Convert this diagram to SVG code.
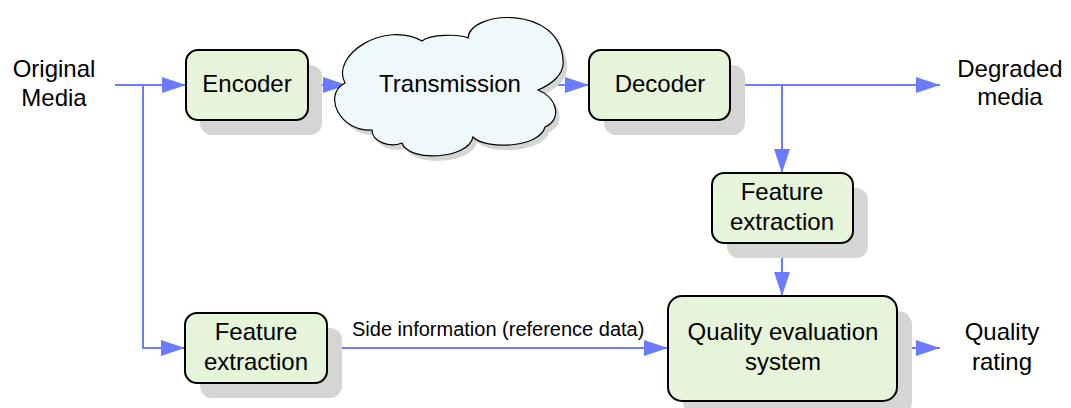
<svg xmlns="http://www.w3.org/2000/svg" width="1071" height="408" viewBox="0 0 1071 408">
  <style>
    .shadow { fill: #d5d6d3; }
    .box { fill: #e6f4da; stroke: #000; stroke-width: 2; }
    .cloud { fill: #eff8fa; stroke: #000; stroke-width: 1.2; }
    .cloud-shadow { fill: #d5d6d3; }
    .lbl { font-family: "Liberation Sans", Arial, sans-serif; font-size: 24px; fill: #000; text-anchor: middle; }
    .small { font-family: "Liberation Sans", Arial, sans-serif; font-size: 20px; fill: #000; }
    .wire { fill: none; stroke: #6b7bff; stroke-width: 2; }
  </style>
  <defs>
    <marker id="arr" markerUnits="userSpaceOnUse" markerWidth="24" markerHeight="16" refX="24" refY="8" orient="auto">
      <path d="M0,0 L24,8 L0,16 Z" fill="#6b7bff"/>
    </marker>
    <path id="cloud-outline" d="M345,83 C330,55 385,20 422,41 C430,34 460,34 468,38 C470,10 560,5 563,60 C565,75 550,85 538,90 C558,98 562,120 545,127 C540,148 485,150 473,137 C468,160 408,162 402,143 C390,148 372,142 372,130 C340,132 322,95 345,83 Z"/>
  </defs>
  <rect width="1071" height="408" fill="#fff"/>

  <!-- free-standing labels -->
  <g id="original-media">
    <text class="lbl" x="54" y="77">Original</text>
    <text class="lbl" x="54" y="106">Media</text>
  </g>
  <g id="degraded-media">
    <text class="lbl" x="1010" y="77">Degraded</text>
    <text class="lbl" x="1010" y="105">media</text>
  </g>
  <g id="quality-rating">
    <text class="lbl" x="1002" y="340">Quality</text>
    <text class="lbl" x="1002" y="370">rating</text>
  </g>

  <!-- connectors -->
  <g id="connectors">
    <path class="wire" d="M115,85 H186" marker-end="url(#arr)"/>
    <path class="wire" d="M143,85 V348 H185" marker-end="url(#arr)"/>
    <path class="wire" d="M308,85 H347" marker-end="url(#arr)"/>
    <path class="wire" d="M540,85 H589" marker-end="url(#arr)"/>
    <path class="wire" d="M730,85 H940" marker-end="url(#arr)"/>
    <path class="wire" d="M782,85 V173" marker-end="url(#arr)"/>
    <path class="wire" d="M782,243 V296" marker-end="url(#arr)"/>
    <path class="wire" d="M327,348 H668" marker-end="url(#arr)"/>
    <path class="wire" d="M897,348 H940" marker-end="url(#arr)"/>
    <text class="small" x="352" y="336">Side information (reference data)</text>
  </g>

  <!-- nodes -->
  <g id="encoder">
    <rect class="shadow" x="200" y="65" width="122" height="70" rx="12"/>
    <rect class="box" x="186" y="50" width="122" height="70" rx="12"/>
    <text class="lbl" x="247" y="92">Encoder</text>
  </g>

  <g id="transmission">
    <use href="#cloud-outline" class="cloud-shadow" transform="translate(4,5)"/>
    <use href="#cloud-outline" class="cloud"/>
    <text class="lbl" x="450" y="92">Transmission</text>
  </g>

  <g id="decoder">
    <rect class="shadow" x="604" y="65" width="141" height="70" rx="12"/>
    <rect class="box" x="589" y="50" width="141" height="70" rx="12"/>
    <text class="lbl" x="660" y="92">Decoder</text>
  </g>

  <g id="feature-extraction-degraded">
    <rect class="shadow" x="727" y="188" width="141" height="70" rx="12"/>
    <rect class="box" x="712" y="173" width="141" height="70" rx="12"/>
    <text class="lbl" x="782" y="200">Feature</text>
    <text class="lbl" x="782" y="230">extraction</text>
  </g>

  <g id="feature-extraction-original">
    <rect class="shadow" x="200" y="328" width="142" height="70" rx="12"/>
    <rect class="box" x="185" y="313" width="142" height="70" rx="12"/>
    <text class="lbl" x="256" y="340">Feature</text>
    <text class="lbl" x="256" y="370">extraction</text>
  </g>

  <g id="quality-evaluation">
    <rect class="shadow" x="683" y="311" width="229" height="105" rx="14"/>
    <rect class="box" x="668" y="296" width="229" height="105" rx="14"/>
    <text class="lbl" x="783" y="340">Quality evaluation</text>
    <text class="lbl" x="783" y="370">system</text>
  </g>
</svg>
